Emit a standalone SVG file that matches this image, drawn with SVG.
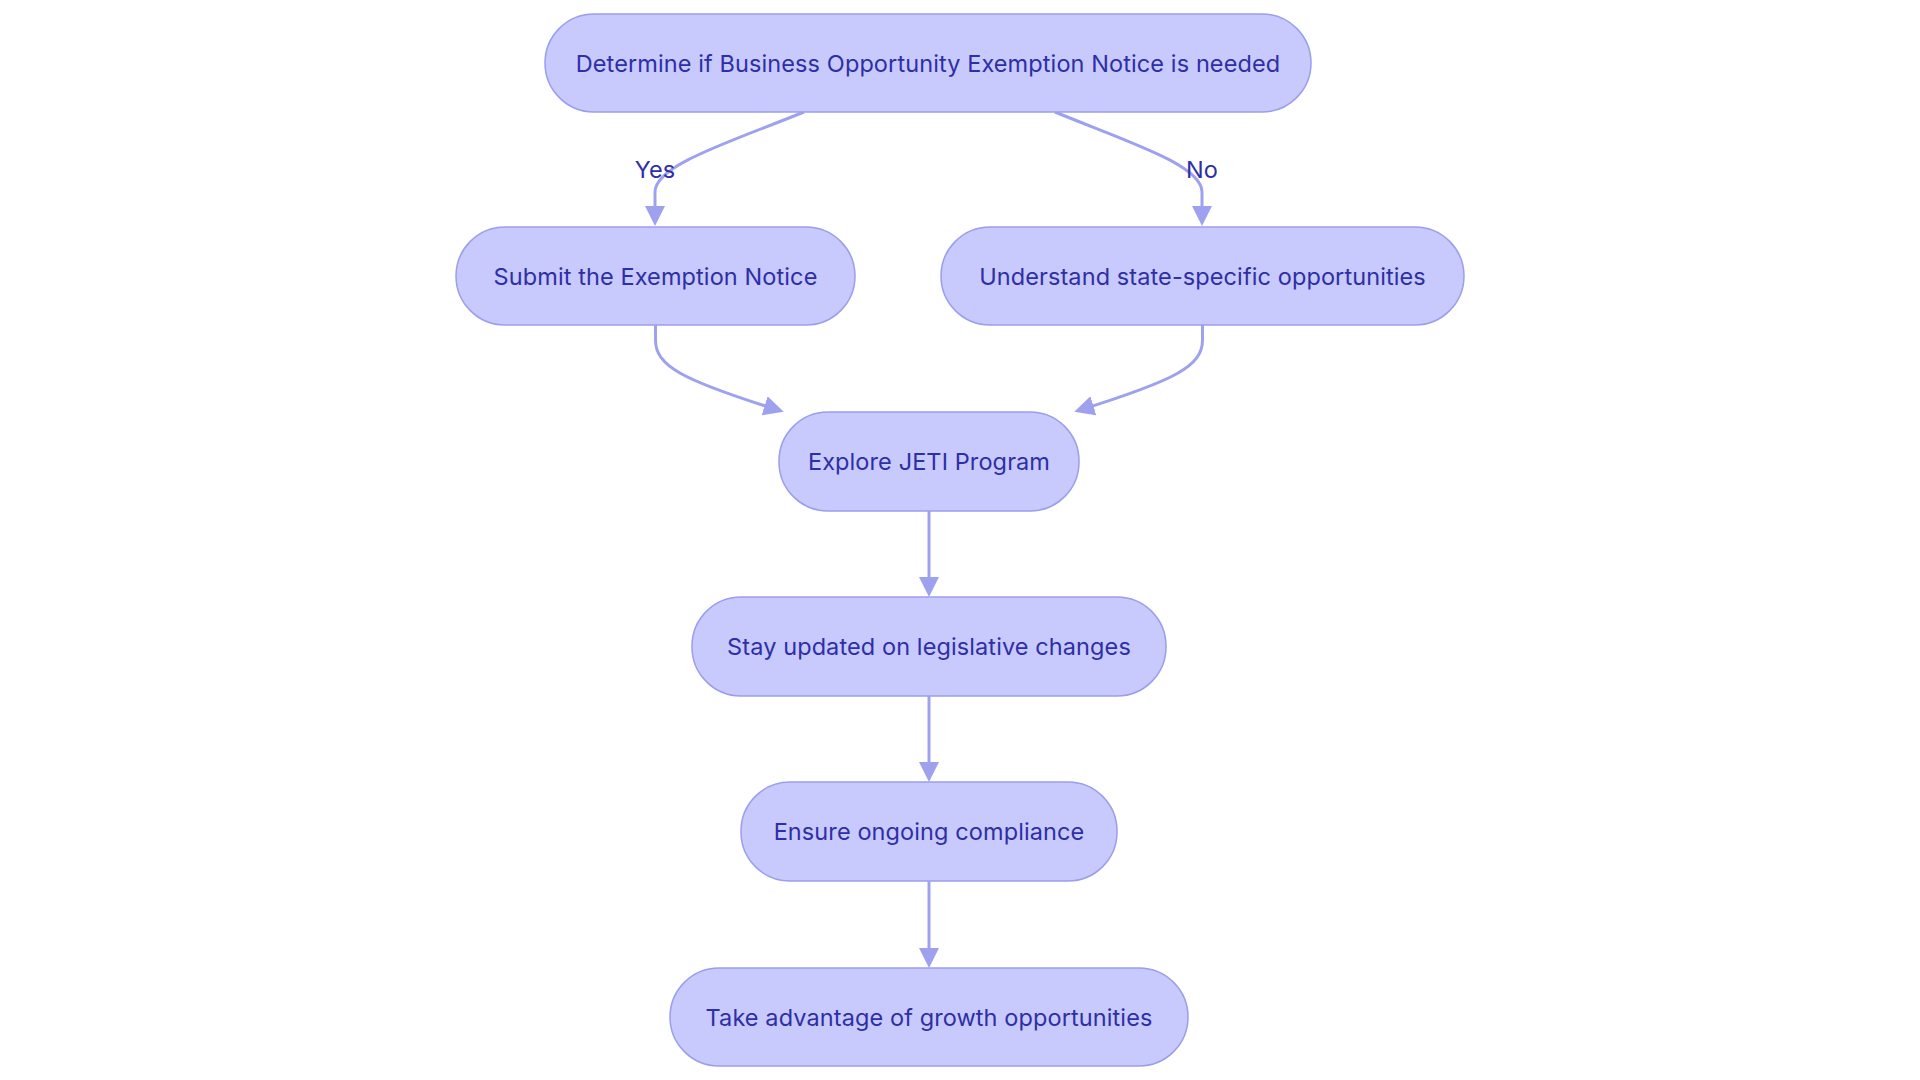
<svg xmlns="http://www.w3.org/2000/svg" width="1920" height="1080" viewBox="0 0 1920 1080">
<style>
.node rect{fill:#c8c9fc;stroke:#9a9eec;stroke-width:1.5}
.node text,.lbl{font-family:Inter,"Liberation Sans",sans-serif;font-size:23.5px;letter-spacing:0.1px;fill:#2e2fa6;text-anchor:middle}
.edge{fill:none;stroke:#9ea2ee;stroke-width:3}
</style>
<defs>
<marker id="arr" markerUnits="userSpaceOnUse" markerWidth="20" markerHeight="20" viewBox="0 0 10 10" refX="7" refY="5" orient="auto">
<path d="M0,0 L10,5 L0,10 z" fill="#9ea2ee"/>
</marker>
</defs>
<rect width="1920" height="1080" fill="#ffffff"/>
<g id="connectors">
<path class="edge" d="M804,112 C730,142 655,165 655,192 L655,220" marker-end="url(#arr)"/>
<path class="edge" d="M1055,112 C1128,142 1202,165 1202,192 L1202,220" marker-end="url(#arr)"/>
<path class="edge" d="M655.5,325 L655.5,340 C655.5,366 682,380 778,410" marker-end="url(#arr)"/>
<path class="edge" d="M1202.5,325 L1202.5,340 C1202.5,366 1176,380 1080,410" marker-end="url(#arr)"/>
<path class="edge" d="M929,511 L929,591" marker-end="url(#arr)"/>
<path class="edge" d="M929,696 L929,776" marker-end="url(#arr)"/>
<path class="edge" d="M929,881 L929,962" marker-end="url(#arr)"/>
<text class="lbl" x="655" y="177.5">Yes</text>
<text class="lbl" x="1202" y="177.5">No</text>
</g>
<g id="n1" class="node"><rect x="545" y="14" width="766" height="98" rx="49"/><text x="928" y="71.5">Determine if Business Opportunity Exemption Notice is needed</text></g>
<g id="n2" class="node"><rect x="456" y="227" width="399" height="98" rx="49"/><text x="655.5" y="284.5">Submit the Exemption Notice</text></g>
<g id="n3" class="node"><rect x="941" y="227" width="523" height="98" rx="49"/><text x="1202.5" y="284.5">Understand state-specific opportunities</text></g>
<g id="n4" class="node"><rect x="779" y="412" width="300" height="99" rx="49"/><text x="929" y="470">Explore JETI Program</text></g>
<g id="n5" class="node"><rect x="692" y="597" width="474" height="99" rx="49"/><text x="929" y="655">Stay updated on legislative changes</text></g>
<g id="n6" class="node"><rect x="741" y="782" width="376" height="99" rx="49"/><text x="929" y="840">Ensure ongoing compliance</text></g>
<g id="n7" class="node"><rect x="670" y="968" width="518" height="98" rx="49"/><text x="929" y="1025.5">Take advantage of growth opportunities</text></g>
</svg>
